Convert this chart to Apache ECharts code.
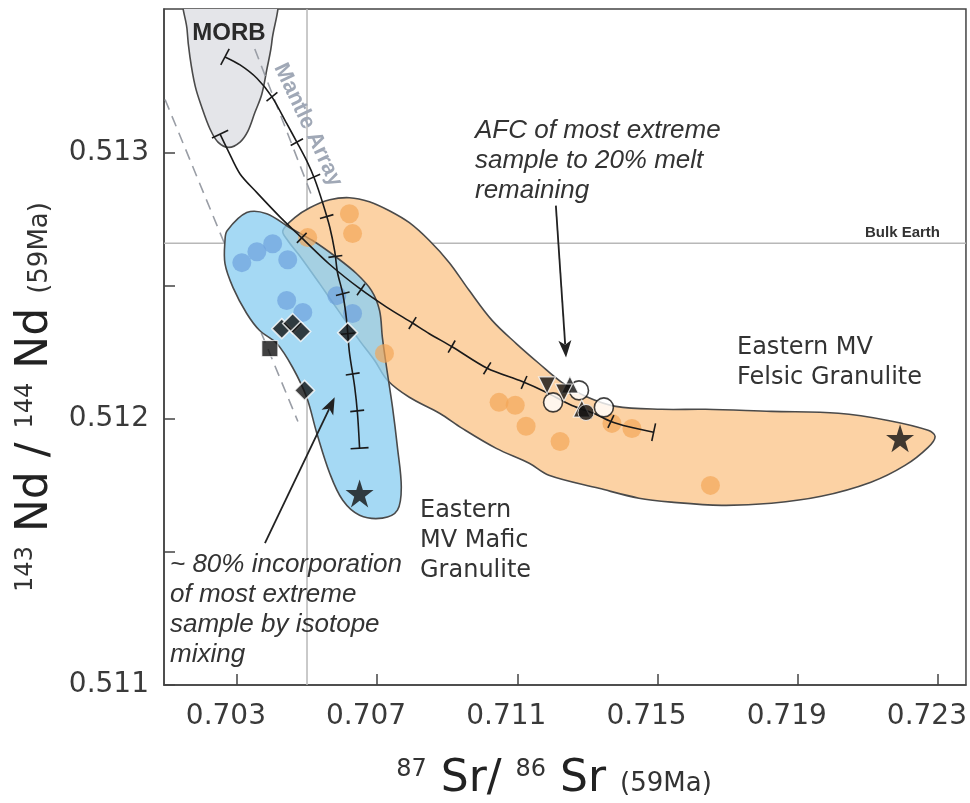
<!DOCTYPE html>
<html>
<head>
<meta charset="utf-8">
<script src="https://cdn.jsdelivr.net/npm/echarts@6/dist/echarts.min.js"></script>
<style>
  html, body { margin: 0; padding: 0; background: #fff; }
  #main { width: 970px; height: 803px; }
</style>
</head>
<body>
<div id="main"></div>
<script>
// axis ranges / ticks
const srMin = 0.70092, srMax = 0.7238;
const ndMin = 0.511, ndMax = 0.51354;
const srTicks = [0.703, 0.707, 0.711, 0.715, 0.719, 0.723];
const ndLabels = [0.511, 0.512, 0.513];
const ndTicks = [0.511, 0.5115, 0.512, 0.5125, 0.513];
const bulkEarthSr = 0.705, bulkEarthNd = 0.51266;

// fields [87Sr/86Sr, 143Nd/144Nd]
const morbField = [[0.70405,0.5136],[0.70400,0.51342],[0.70385,0.51331],[0.70371,0.51322],[0.70351,0.51315],[0.70331,0.51308],[0.70309,0.51304],[0.70277,0.51302],[0.70246,0.51304],[0.70223,0.51309],[0.70200,0.51317],[0.70181,0.51325],[0.70166,0.51336],[0.70158,0.51346],[0.70155,0.5136]];
const maficField = [[0.70272,0.512707],[0.70328,0.512775],[0.70385,0.512771],[0.70451,0.512718],[0.70516,0.51267],[0.70585,0.512606],[0.70641,0.512546],[0.70684,0.512482],[0.70707,0.512407],[0.70715,0.512306],[0.70727,0.512193],[0.70744,0.512043],[0.70758,0.511893],[0.70769,0.511743],[0.70758,0.511657],[0.70715,0.511627],[0.70650,0.511638],[0.70602,0.511694],[0.70565,0.511795],[0.70528,0.511946],[0.70499,0.512081],[0.70459,0.512193],[0.70414,0.512283],[0.70365,0.512332],[0.70328,0.512396],[0.70289,0.512493],[0.70266,0.512583],[0.70266,0.51267]];
const felsicField = [[0.70431,0.512707],[0.70465,0.512756],[0.70508,0.512793],[0.70565,0.512823],[0.70621,0.512831],[0.70678,0.512816],[0.70735,0.512782],[0.70792,0.512737],[0.70849,0.51267],[0.70906,0.512587],[0.70963,0.512482],[0.71028,0.51237],[0.71097,0.512283],[0.71162,0.512208],[0.71227,0.512137],[0.71296,0.512084],[0.71381,0.512047],[0.71512,0.512036],[0.71637,0.512036],[0.71825,0.512028],[0.72016,0.512021],[0.72158,0.511994],[0.72272,0.511957],[0.72292,0.511934],[0.72272,0.511893],[0.72206,0.511825],[0.72109,0.511762],[0.71967,0.511709],[0.71825,0.511683],[0.71683,0.511675],[0.71540,0.511687],[0.71447,0.511702],[0.71333,0.511739],[0.71190,0.511788],[0.71134,0.511833],[0.71040,0.511889],[0.70943,0.511964],[0.70878,0.512021],[0.70792,0.512081],[0.70730,0.512144],[0.70693,0.512219],[0.70650,0.512294],[0.70593,0.5124],[0.70536,0.512508],[0.70479,0.512613],[0.70445,0.51267]];

// mantle array (dashed)
const mantleArrayA = [[0.70095,0.51320],[0.70474,0.51199]];
const mantleArrayB = [[0.70351,0.51339],[0.70516,0.51283]];

// mixing curve (MORB -> mafic end member)
const mixCurve = [[0.70266,0.51336],[0.70309,0.51333],[0.70357,0.51328],[0.70400,0.51321],[0.70442,0.51311],[0.70471,0.51304],[0.70499,0.51297],[0.70522,0.51290],[0.70545,0.51281],[0.70565,0.51272],[0.70579,0.51263],[0.70587,0.51255],[0.70602,0.51247],[0.70613,0.51237],[0.70621,0.51225],[0.70636,0.51212],[0.70644,0.51202],[0.70650,0.51189]];
const mixTicks = [[0.70400,0.51321],[0.70471,0.51304],[0.70522,0.51291],[0.70556,0.51276],[0.70579,0.51261],[0.70602,0.51247],[0.70616,0.51232],[0.70636,0.51217],[0.70644,0.51203]];
const mixEnds = [[0.70266,0.51336],[0.70650,0.51189]];

// AFC curve
const afcCurve = [[0.70252,0.51307],[0.70274,0.51301],[0.70309,0.51292],[0.70357,0.51285],[0.70422,0.51276],[0.70485,0.51268],[0.70565,0.51258],[0.70650,0.51249],[0.70727,0.51242],[0.70801,0.51236],[0.70849,0.51232],[0.70915,0.51227],[0.71014,0.51219],[0.71114,0.51214],[0.71182,0.51210],[0.71256,0.51205],[0.71319,0.51202],[0.71367,0.51199],[0.71418,0.51197],[0.71489,0.51195]];
const afcTicks = [[0.70485,0.51268],[0.70656,0.51249],[0.70801,0.51236],[0.70912,0.51227],[0.71014,0.51219],[0.71117,0.51213],[0.71367,0.51199]];
const afcEnds = [[0.70252,0.51307],[0.71489,0.51195]];

// samples
const maficSamples = [[0.70314,0.512587],[0.70357,0.512628],[0.70402,0.512658],[0.70445,0.512598],[0.70442,0.512445],[0.70488,0.5124],[0.70585,0.512463],[0.70630,0.512396]];
const felsicSamples = [[0.70621,0.512771],[0.70630,0.512696],[0.70502,0.512681],[0.70721,0.512246],[0.71048,0.512062],[0.71094,0.512051],[0.71125,0.511972],[0.71222,0.511915],[0.71370,0.511983],[0.71427,0.511964],[0.71651,0.51175]];
const diamondSamples = [[0.70428,0.512339],[0.70459,0.512358],[0.70482,0.512328],[0.70616,0.512324],[0.70493,0.512107]];
const squareSamples = [[0.70394,0.512264]];
const extremeSamples = [[0.70650,0.51172],[0.72192,0.511927]];
const openCircles = [[0.71276,0.512107],[0.71202,0.512062],[0.71347,0.512043]];
const upTriangles = [[0.71250,0.512129],[0.71284,0.512039]];
const downTriangles = [[0.71185,0.512126],[0.71233,0.512099]];
const filledCircles = [[0.71296,0.512024]];

// annotation arrows [x1, y1, x2, y2]
const afcArrow = [0.71210, 0.512801, 0.71239, 0.512231];
const mixArrow = [0.70380, 0.511533, 0.70579, 0.512081];

const chart = echarts.init(document.getElementById('main'));

function project(p, a, b) {
  const dx = b[0] - a[0], dy = b[1] - a[1];
  const l2 = dx * dx + dy * dy || 1;
  let t = ((p[0] - a[0]) * dx + (p[1] - a[1]) * dy) / l2;
  t = Math.max(0, Math.min(1, t));
  const q = [a[0] + t * dx, a[1] + t * dy];
  return { q: q, d: Math.hypot(p[0] - q[0], p[1] - q[1]), dx: dx, dy: dy };
}

function fieldSeries(name, pts, fill, z, stroke) {
  return {
    name: name, type: 'custom', z: z, silent: true, clip: true,
    data: [pts[0]],
    renderItem: function (params, api) {
      return {
        type: 'polygon',
        shape: { points: pts.map(p => api.coord(p)), smooth: 0.35 },
        style: { fill: fill, stroke: stroke === undefined ? '#4a4a4a' : stroke, lineWidth: 1.6 }
      };
    }
  };
}

function tickSeries(name, curve, ticks, half, z) {
  return {
    name: name, type: 'custom', z: z, silent: true,
    data: ticks,
    renderItem: function (params, api) {
      const p = api.coord([api.value(0), api.value(1)]);
      const px = curve.map(c => api.coord(c));
      let best = null;
      for (let i = 0; i < px.length - 1; i++) {
        const r = project(p, px[i], px[i + 1]);
        if (!best || r.d < best.d) best = r;
      }
      const len = Math.hypot(best.dx, best.dy) || 1;
      const nx = -best.dy / len * half, ny = best.dx / len * half;
      const q = best.q;
      return {
        type: 'line',
        shape: { x1: q[0] - nx, y1: q[1] - ny, x2: q[0] + nx, y2: q[1] + ny },
        style: { stroke: '#1a1a1a', lineWidth: 1.6 }
      };
    }
  };
}

function arrowSeries(name, seg, z) {
  return {
    name: name, type: 'custom', z: z, silent: true,
    data: [seg],
    renderItem: function (params, api) {
      const a = api.coord([api.value(0), api.value(1)]);
      const b = api.coord([api.value(2), api.value(3)]);
      const dx = b[0] - a[0], dy = b[1] - a[1];
      const len = Math.hypot(dx, dy), ux = dx / len, uy = dy / len;
      const hl = 17, hw = 6.5;
      const base = [b[0] - ux * hl, b[1] - uy * hl];
      return {
        type: 'group',
        children: [
          { type: 'line', shape: { x1: a[0], y1: a[1], x2: base[0] + ux * 4, y2: base[1] + uy * 4 }, style: { stroke: '#222', lineWidth: 1.8 } },
          { type: 'polygon', shape: { points: [b, [base[0] - uy * hw, base[1] + ux * hw], [b[0] - ux * hl * 0.75, b[1] - uy * hl * 0.75], [base[0] + uy * hw, base[1] - ux * hw]] }, style: { fill: '#222' } }
        ]
      };
    }
  };
}

function lineSeries(name, data, style, z, smooth) {
  return {
    name: name, type: 'line', data: data, z: z, silent: true,
    symbol: 'none', smooth: smooth || false, lineStyle: style
  };
}

function scatter(name, data, symbol, size, itemStyle, z, rotate) {
  return {
    name: name, type: 'scatter', data: data, z: z, silent: true,
    symbol: symbol, symbolSize: size, symbolRotate: rotate || 0, itemStyle: itemStyle
  };
}

const starPath = 'path://M50,0 L61.2,34.5 L97.6,34.5 L68.2,55.9 L79.4,90.5 L50,69.1 L20.6,90.5 L31.8,55.9 L2.4,34.5 L38.8,34.5 Z';
const labelFont = 'DejaVu Sans';
const italicFont = 'italic 26px "Liberation Sans", Arial, sans-serif';
const titleRich = {
  s: { fontSize: 24, fontFamily: labelFont, verticalAlign: 'top', fill: '#333' },
  b: { fontSize: 44, fontFamily: labelFont, verticalAlign: 'bottom', fill: '#222' },
  m: { fontSize: 26, fontFamily: labelFont, verticalAlign: 'bottom', fill: '#333', padding: [0, 0, 5, 0] }
};

chart.setOption({
  animation: false,
  backgroundColor: '#fff',
  grid: { left: 164, right: 2, top: 9, bottom: 118, show: true, borderColor: '#444', borderWidth: 1.5, backgroundColor: '#fff' },
  xAxis: {
    type: 'value', min: srMin, max: srMax,
    axisLine: { onZero: false, lineStyle: { color: '#444', width: 1.5 } },
    axisTick: { inside: true, length: 11, customValues: srTicks, lineStyle: { color: '#444', width: 1.5 } },
    axisLabel: { customValues: srTicks, margin: 18, fontSize: 28, fontFamily: labelFont, color: '#3a3a3a', padding: [0, 22, 0, 0], formatter: v => v.toFixed(3) },
    splitLine: { show: false }
  },
  yAxis: {
    type: 'value', min: ndMin, max: ndMax,
    axisLine: { onZero: false, lineStyle: { color: '#444', width: 1.5 } },
    axisTick: { inside: true, length: 11, customValues: ndTicks, lineStyle: { color: '#444', width: 1.5 } },
    axisLabel: { customValues: ndLabels, margin: 15, fontSize: 28, fontFamily: labelFont, color: '#3a3a3a', formatter: v => v.toFixed(3) },
    splitLine: { show: false }
  },
  series: [
    lineSeries('Bulk Earth Nd', [[srMin, bulkEarthNd], [srMax, bulkEarthNd]], { color: '#b8b8b8', width: 1.5 }, 1),
    lineSeries('Bulk Earth Sr', [[bulkEarthSr, ndMin], [bulkEarthSr, ndMax]], { color: '#b8b8b8', width: 1.5 }, 1),
    fieldSeries('MORB', morbField, '#e4e5e9', 2),
    lineSeries('Mantle Array A', mantleArrayA, { color: '#9a9ea6', width: 1.6, type: [11, 7] }, 2),
    lineSeries('Mantle Array B', mantleArrayB, { color: '#9a9ea6', width: 1.6, type: [11, 7] }, 2),
    fieldSeries('Mafic backing', maficField, '#fff', 3, 'none'),
    fieldSeries('Felsic Granulite', felsicField, '#fcd2a4', 3),
    fieldSeries('Mafic Granulite', maficField, 'rgba(142,208,241,0.8)', 4),
    scatter('Felsic samples', felsicSamples, 'circle', 19, { color: 'rgba(244,166,86,0.85)' }, 5),
    scatter('Mafic samples', maficSamples, 'circle', 19, { color: 'rgba(108,160,220,0.85)' }, 5),
    lineSeries('Mixing', mixCurve, { color: '#1a1a1a', width: 1.6 }, 6, 0.3),
    lineSeries('AFC', afcCurve, { color: '#1a1a1a', width: 1.6 }, 6, 0.3),
    tickSeries('Mixing ticks', mixCurve, mixTicks, 7, 6),
    tickSeries('Mixing ends', mixCurve, mixEnds, 9, 6),
    tickSeries('AFC ticks', afcCurve, afcTicks, 7, 6),
    tickSeries('AFC ends', afcCurve, afcEnds, 9, 6),
    scatter('Diamonds', diamondSamples, 'diamond', 20, { color: '#111', borderColor: '#fff', borderWidth: 1.5 }, 7),
    scatter('Square', squareSamples, 'rect', 16, { color: '#111', borderColor: '#fff', borderWidth: 1 }, 7),
    scatter('Extreme samples', extremeSamples, starPath, 28, { color: '#111' }, 7),
    scatter('Open circles', openCircles, 'circle', 19, { color: '#fff', borderColor: '#111', borderWidth: 1.6 }, 7),
    scatter('Up triangles', upTriangles, 'triangle', 17, { color: '#111', borderColor: '#fff', borderWidth: 1.2 }, 8),
    scatter('Down triangles', downTriangles, 'triangle', 17, { color: '#111', borderColor: '#fff', borderWidth: 1.2 }, 8, 180),
    scatter('Filled circles', filledCircles, 'circle', 16, { color: '#111', borderColor: '#fff', borderWidth: 1 }, 8),
    arrowSeries('AFC arrow', afcArrow, 9),
    arrowSeries('Mixing arrow', mixArrow, 9)
  ],
  graphic: [
    { type: 'text', z: 100, x: 229, y: 33, style: { text: 'MORB', font: 'bold 24px "Liberation Sans", Arial, sans-serif', fill: '#2a2a2a', align: 'center', verticalAlign: 'middle' } },
    { type: 'text', z: 100, x: 308, y: 125, rotation: -1.13, style: { text: 'Mantle Array', font: 'bold 22px "Liberation Sans", Arial, sans-serif', fill: '#a0a8b6', align: 'center', verticalAlign: 'middle' } },
    { type: 'text', z: 100, x: 940, y: 233, style: { text: 'Bulk Earth', font: 'bold 15px "Liberation Sans", Arial, sans-serif', fill: '#333', align: 'right', verticalAlign: 'middle' } },
    { type: 'text', z: 100, left: 475, top: 116, style: { text: 'AFC of most extreme\nsample to 20% melt\nremaining', font: italicFont, fill: '#333', lineHeight: 30 } },
    { type: 'text', z: 100, left: 170, top: 550, style: { text: '~ 80% incorporation\nof most extreme\nsample by isotope\nmixing', font: italicFont, fill: '#333', lineHeight: 30 } },
    { type: 'text', z: 100, left: 420, top: 496, style: { text: 'Eastern\nMV Mafic\nGranulite', font: '24px "DejaVu Sans", sans-serif', fill: '#333', lineHeight: 30 } },
    { type: 'text', z: 100, left: 737, top: 333, style: { text: 'Eastern MV\nFelsic Granulite', font: '24px "DejaVu Sans", sans-serif', fill: '#333', lineHeight: 30 } },
    {
      type: 'text', z: 100, x: 554, y: 780,
      style: { text: '{s|87}{b| Sr/ }{s|86}{b| Sr }{m|(59Ma)}', align: 'center', verticalAlign: 'middle', fill: '#333', rich: titleRich }
    },
    {
      type: 'text', z: 100, x: 36, y: 397, rotation: Math.PI / 2,
      style: { text: '{s|143}{b| Nd / }{s|144}{b| Nd }{m|(59Ma)}', align: 'center', verticalAlign: 'middle', fill: '#333', rich: titleRich }
    }
  ]
});
</script>
</body>
</html>
